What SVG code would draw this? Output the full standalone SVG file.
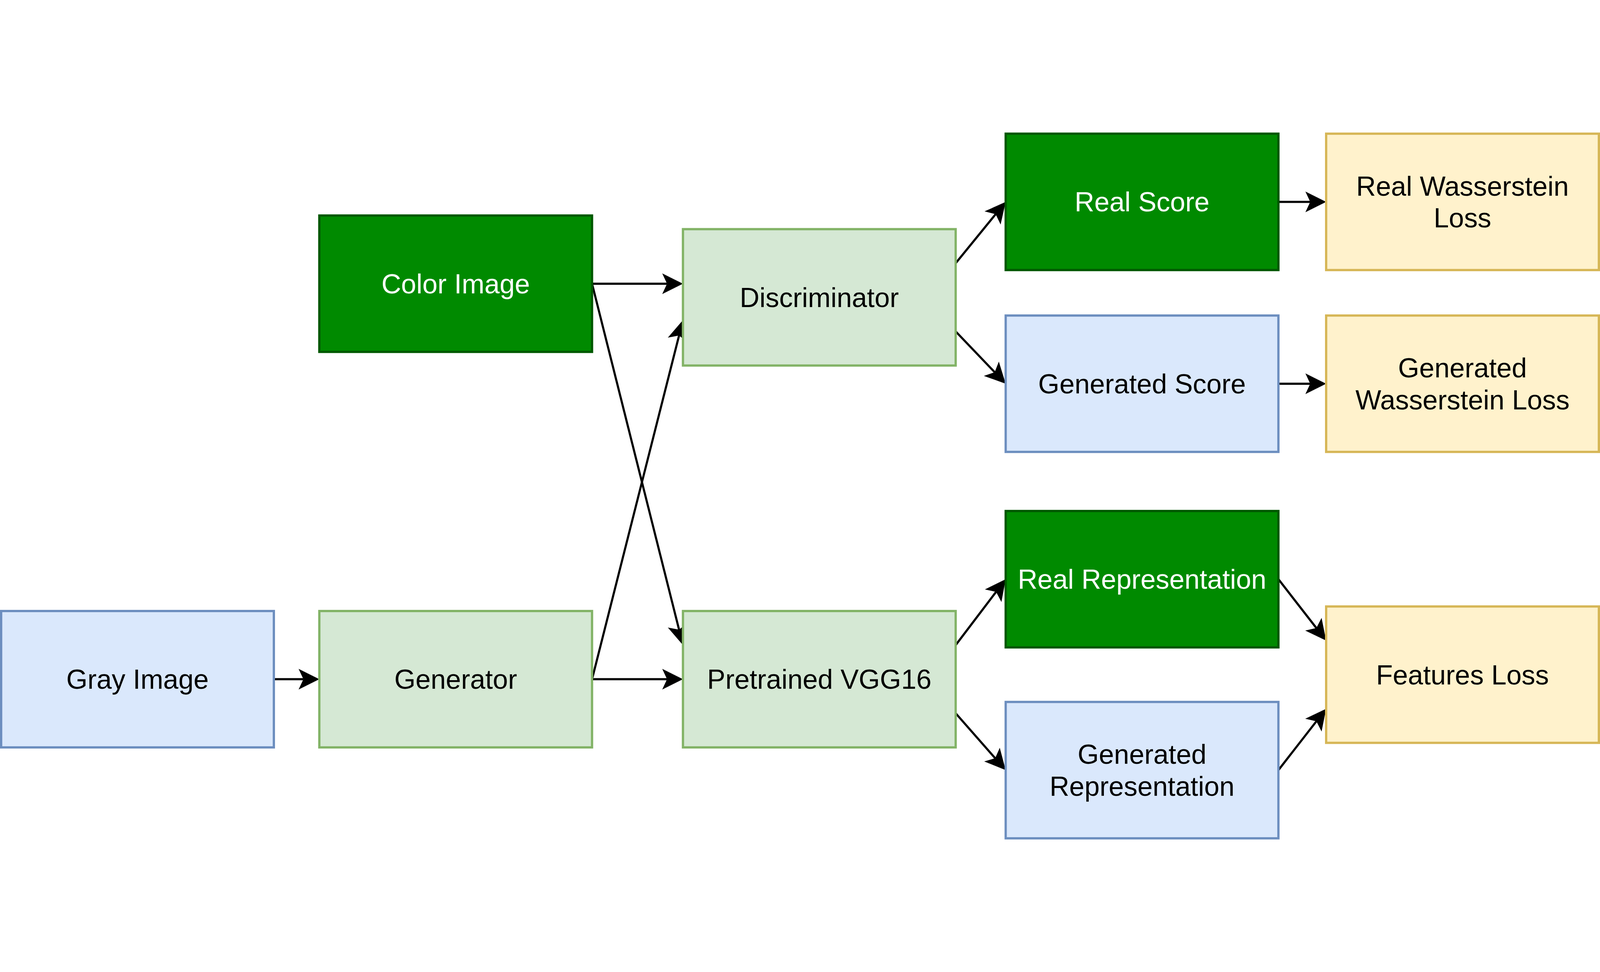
<svg xmlns="http://www.w3.org/2000/svg" width="5632" height="2488" viewBox="0 0 5632 2488">
<style>
  svg { width: 100vw; height: 100vh; }
  .box { stroke-width: 8; }
  .dark { fill: #008a00; stroke: #005700; }
  .lgreen { fill: #d5e8d4; stroke: #82b366; }
  .blue { fill: #dae8fc; stroke: #6c8ebf; }
  .yellow { fill: #fff2cc; stroke: #d6b656; }
  text { font-family: "Liberation Sans", Arial, Helvetica, sans-serif; font-size: 96px; text-anchor: middle; fill: #000000; }
  text.w { fill: #ffffff; }
  .edge { fill: none; stroke: #000000; stroke-width: 7.5; marker-end: url(#arrow); }
</style>
<defs>
  <marker id="arrow" markerUnits="userSpaceOnUse" orient="auto" refX="0" refY="0" markerWidth="200" markerHeight="200" viewBox="-100 -100 200 200" overflow="visible">
    <path d="M56,0 L-17,-36.5 L0,0 L-17,36.5 Z" fill="#000000" stroke="none"/>
  </marker>
</defs>
<rect x="0" y="0" width="5632" height="2488" fill="#ffffff"/>

<g id="edges">
  <line class="edge" x1="964" y1="1924" x2="1068" y2="1924"/>
  <line class="edge" x1="2084" y1="532" x2="2348" y2="532"/>
  <line class="edge" x1="2084" y1="532" x2="2390.3" y2="1749.7"/>
  <line class="edge" x1="2084" y1="1924" x2="2390.3" y2="714.3"/>
  <line class="edge" x1="2084" y1="1924" x2="2348" y2="1924"/>
  <line class="edge" x1="3364" y1="460" x2="3504.6" y2="287.4"/>
  <line class="edge" x1="3364" y1="700" x2="3501.3" y2="843.5"/>
  <line class="edge" x1="4500" y1="244" x2="4612" y2="244"/>
  <line class="edge" x1="4500" y1="884" x2="4612" y2="884"/>
  <line class="edge" x1="3364" y1="1804" x2="3506.2" y2="1616.6"/>
  <line class="edge" x1="3364" y1="2044" x2="3503" y2="2202"/>
  <line class="edge" x1="4500" y1="1572" x2="4633.6" y2="1743.8"/>
  <line class="edge" x1="4500" y1="2244" x2="4633.6" y2="2072.2"/>
</g>

<g id="color-image">
  <rect class="box dark" x="1124" y="292" width="960" height="480"/>
  <text class="w" x="1604" y="566">Color Image</text>
</g>
<g id="gray-image">
  <rect class="box blue" x="4" y="1684" width="960" height="480"/>
  <text x="484" y="1958">Gray Image</text>
</g>
<g id="generator">
  <rect class="box lgreen" x="1124" y="1684" width="960" height="480"/>
  <text x="1604" y="1958">Generator</text>
</g>
<g id="discriminator">
  <rect class="box lgreen" x="2404" y="340" width="960" height="480"/>
  <text x="2884" y="614">Discriminator</text>
</g>
<g id="vgg16">
  <rect class="box lgreen" x="2404" y="1684" width="960" height="480"/>
  <text x="2884" y="1958">Pretrained VGG16</text>
</g>
<g id="real-score">
  <rect class="box dark" x="3540" y="4" width="960" height="480"/>
  <text class="w" x="4020" y="278">Real Score</text>
</g>
<g id="generated-score">
  <rect class="box blue" x="3540" y="644" width="960" height="480"/>
  <text x="4020" y="918">Generated Score</text>
</g>
<g id="real-representation">
  <rect class="box dark" x="3540" y="1332" width="960" height="480"/>
  <text class="w" x="4020" y="1606">Real Representation</text>
</g>
<g id="generated-representation">
  <rect class="box blue" x="3540" y="2004" width="960" height="480"/>
  <text x="4020" y="2222">Generated</text>
  <text x="4020" y="2334">Representation</text>
</g>
<g id="real-wasserstein-loss">
  <rect class="box yellow" x="4668" y="4" width="960" height="480"/>
  <text x="5148" y="222">Real Wasserstein</text>
  <text x="5148" y="334">Loss</text>
</g>
<g id="generated-wasserstein-loss">
  <rect class="box yellow" x="4668" y="644" width="960" height="480"/>
  <text x="5148" y="862">Generated</text>
  <text x="5148" y="974">Wasserstein Loss</text>
</g>
<g id="features-loss">
  <rect class="box yellow" x="4668" y="1668" width="960" height="480"/>
  <text x="5148" y="1942">Features Loss</text>
</g>
</svg>
